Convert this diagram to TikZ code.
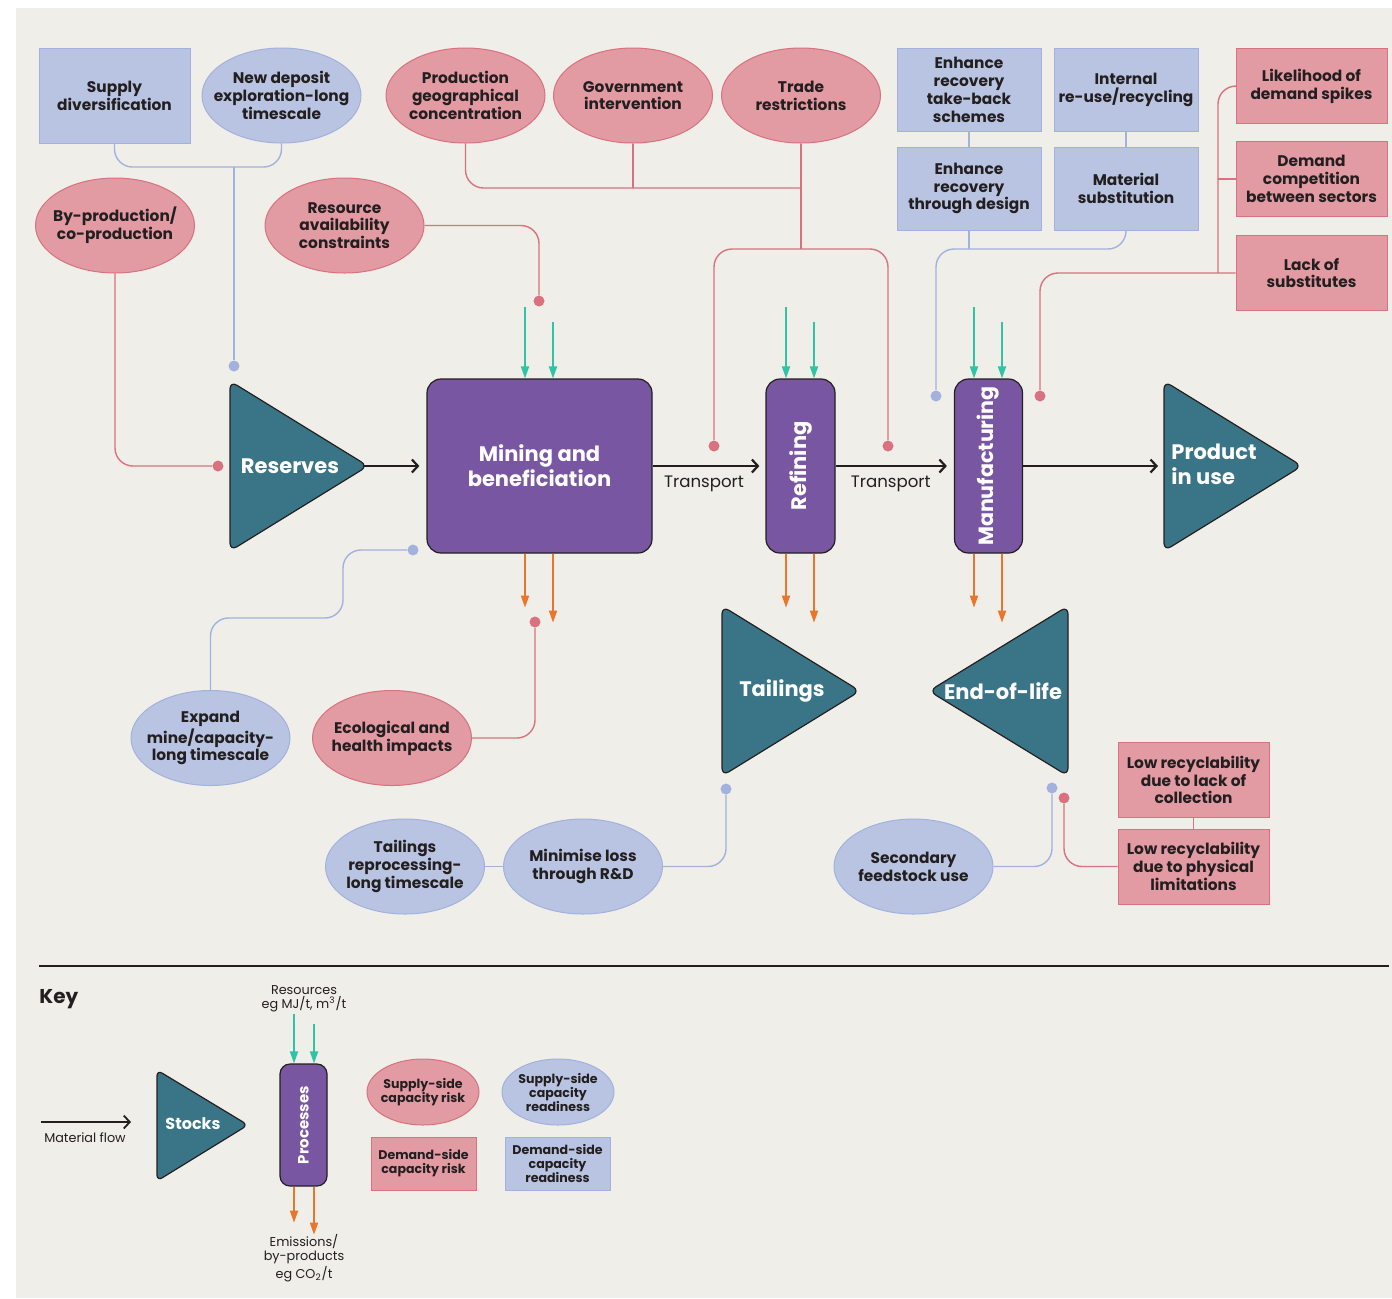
\documentclass[tikz,border=0pt]{standalone}
\usepackage{fontspec}
\setmainfont{Poppins}
\usetikzlibrary{shapes.geometric, arrows.meta, positioning}

\definecolor{bgbeige}{HTML}{EFEEE9}
\definecolor{riskfill}{HTML}{E29AA3}
\definecolor{riskline}{HTML}{D9717F}
\definecolor{readyfill}{HTML}{B9C4E2}
\definecolor{readyline}{HTML}{A2B2DD}
\definecolor{stockteal}{HTML}{3A7587}
\definecolor{procpurple}{HTML}{7856A2}
\definecolor{resgreen}{HTML}{2EC4A5}
\definecolor{emorange}{HTML}{E8762D}
\definecolor{ink}{HTML}{231F20}

\newcommand{\boxfont}{\bfseries\fontsize{7.7}{8.9}\selectfont}
\newcommand{\bigfont}{\bfseries\fontsize{10.5}{12.5}\selectfont}
\newcommand{\flowfont}{\fontsize{8.3}{10}\selectfont}
\newcommand{\keyfont}{\bfseries\fontsize{6.3}{7}\selectfont}
\newcommand{\notefont}{\fontsize{6.4}{7}\selectfont}

\tikzset{
  riskoval/.style={ellipse, draw=riskline, fill=riskfill, line width=0.5pt, inner xsep=-10pt,
    inner ysep=-4pt, align=center, text=ink, font=\boxfont, minimum width=79.5pt, minimum height=47.5pt},
  readyoval/.style={riskoval, draw=readyline, fill=readyfill},
  riskbox/.style={rectangle, draw=riskline, fill=riskfill, line width=0.5pt, inner sep=0pt,
    align=center, text=ink, font=\boxfont, minimum width=75.5pt, minimum height=37.5pt},
  readybox/.style={riskbox, draw=readyline, fill=readyfill},
  procbox/.style={rectangle, rounded corners=7pt, draw=ink, line width=0.6pt, fill=procpurple,
    minimum height=87pt},
  proctext/.style={text=white, font=\bigfont, align=center, inner sep=0pt},
  stockshape/.style={fill=stockteal, draw=ink, line width=0.6pt, rounded corners=4pt},
  risklink/.style={draw=riskline, line width=0.7pt, rounded corners=9pt},
  readylink/.style={draw=readyline, line width=0.7pt, rounded corners=9pt},
  riskdot/.style={circle, fill=riskline, inner sep=0pt, minimum size=5.5pt},
  readydot/.style={riskdot, fill=readyline},
  flow/.style={draw=ink, line width=1.1pt, -{Straight Barb[length=3pt,width=6.5pt]}},
  resin/.style={draw=resgreen, line width=0.9pt, -{Triangle[length=6pt,width=4pt]}},
  emout/.style={resin, draw=emorange},
}

\begin{document}
\begin{tikzpicture}[x=0.5pt, y=-0.5pt]
    \useasboundingbox (0,0) rectangle (1392,1298);
    \fill[white] (0,0) rectangle (1392,1298);
    \fill[bgbeige] (16,8) rectangle (1392,1298);

    % Top row: levers and risks feeding the chain
    \node[readybox, minimum height=47.5pt] (supdiv) at (114.5,95.5) {Supply\\diversification};
    \node[readyoval] (newdep) at (281.5,95.5) {New deposit\\exploration-long\\timescale};
    \node[riskoval] (prodgeo) at (465.5,95.5) {Production\\geographical\\concentration};
    \node[riskoval] (govint) at (633,95.5) {Government\\intervention};
    \node[riskoval] (trade) at (801,95.5) {Trade\\restrictions};
    \node[readybox, minimum width=72pt, minimum height=41.5pt] (takeback) at (969,90) {Enhance\\recovery\\take-back\\schemes};
    \node[readybox, minimum width=72pt, minimum height=41.5pt] (reuse) at (1126,90) {Internal\\re-use/recycling};
    \node[readybox, minimum width=72pt, minimum height=41.5pt] (design) at (969,188.5) {Enhance\\recovery\\through design};
    \node[readybox, minimum width=72pt, minimum height=41.5pt] (subst) at (1126,188.5) {Material\\substitution};
    \node[riskbox] (spikes) at (1311.5,86) {Likelihood of\\demand spikes};
    \node[riskbox] (compete) at (1311.5,179) {Demand\\competition\\between sectors};
    \node[riskbox] (nosubst) at (1311.5,273) {Lack of\\substitutes};

    % Second row
    \node[riskoval] (byprod) at (115,225.5) {By-production/\\co-production};
    \node[riskoval] (resavail) at (344.5,225.5) {Resource\\availability\\constraints};

    % Main chain: stocks and processes
    \draw[stockshape] (230,381) -- (368,466) -- (230,551) -- cycle;
    \coordinate (restip) at (364,466);
    \node[proctext] (reserves) at (290,466) {Reserves};
    \node[procbox, minimum width=112.5pt] (mining) at (539.5,466) {};
    \node[proctext] (mining-t) at (mining) {Mining and\\beneficiation};
    \node[procbox, minimum width=34.5pt] (refining) at (800.5,466) {};
    \node[proctext, rotate=90] (refining-t) at (refining) {Refining};
    \node[procbox, minimum width=34pt] (manuf) at (988.5,466) {};
    \node[proctext, rotate=90, font=\bfseries\fontsize{10.3}{12}\selectfont] (manuf-t) at (manuf) {Manufacturing};
    \draw[stockshape] (1164,381) -- (1302,466) -- (1164,551) -- cycle;
    \coordinate (prodleft) at (1164,466);
    \node[proctext, anchor=west, align=left] (inuse) at (1171,464) {Product\\in use};

    % Losses
    \draw[stockshape] (722,606) -- (860,691) -- (722,776) -- cycle;
    \node[proctext] (tailings) at (782,691) {Tailings};
    \draw[stockshape] (1068,606) -- (929,691) -- (1068,776) -- cycle;
    \node[proctext] (eol) at (1003,691) {End-of-life};

    % Material flow
    \draw[flow, shorten >=3.5pt] (restip) -- (mining.west);
    \draw[flow, shorten >=3pt] (mining.east) -- node[below=1pt, xshift=-2.5pt, font=\flowfont, text=ink] (tr1) {Transport} (refining.west);
    \draw[flow, shorten >=3.5pt] (refining.east) -- node[below=1pt, xshift=-2pt, font=\flowfont, text=ink] (tr2) {Transport} (manuf.west);
    \draw[flow, shorten >=3pt] (manuf.east) -- (prodleft);

    % Resources in, emissions out
    \foreach \p in {mining, refining, manuf} {
        \draw[resin] ([xshift=-7.25pt, yshift=35.5pt]\p.north) -- ([xshift=-7.25pt]\p.north);
        \draw[resin] ([xshift=6.75pt, yshift=28pt]\p.north) -- ([xshift=6.75pt]\p.north);
        \draw[emout] ([xshift=-7.25pt]\p.south) -- ([xshift=-7.25pt, yshift=-27pt]\p.south);
        \draw[emout] ([xshift=6.75pt]\p.south) -- ([xshift=6.75pt, yshift=-34.5pt]\p.south);
    }

    % Lower levers and risks
    \node[readyoval] (expand) at (210.5,738) {Expand\\mine/capacity-\\long timescale};
    \node[riskoval] (eco) at (392,738) {Ecological and\\health impacts};
    \node[readyoval] (tailrep) at (405,866.5) {Tailings\\reprocessing-\\long timescale};
    \node[readyoval] (minloss) at (583,866.5) {Minimise loss\\through R\&D};
    \node[readyoval] (secfeed) at (913.5,866.5) {Secondary\\feedstock use};
    \node[riskbox] (lowcoll) at (1193.5,780) {Low recyclability\\due to lack of\\collection};
    \node[riskbox] (lowphys) at (1193.5,866.5) {Low recyclability\\due to physical\\limitations};

    % Dots where links touch the chain
    \node[readydot] (resblue) at (234,366) {};
    \node[riskdot] (respink) at (218,466) {};
    \node[riskdot] (minepink) at (539,301) {};
    \node[riskdot] (tradeL) at (714,446) {};
    \node[riskdot] (tradeR) at (888,446) {};
    \node[readydot] (mfblue) at (936,396) {};
    \node[riskdot] (mfpink) at (1040,396) {};
    \node[readydot] (mineblue) at (413,550) {};
    \node[riskdot] (ecopink) at (535,622) {};
    \node[readydot] (tailblue) at (726,789) {};
    \node[readydot] (eolblue) at (1052,788) {};
    \node[riskdot] (eolpink) at (1064,798) {};

    % Links above the chain
    \coordinate (supj) at (234,167);
    \coordinate (polj) at (801,188);
    \coordinate (tradej) at (801,249);
    \coordinate (recj) at (936,249);
    \coordinate (demj) at (1218,273);
    \draw[readylink] (supdiv.south) |- (newdep.south |- supj) -- (newdep.south);
    \draw[readylink] (supj) -- (resblue);
    \draw[risklink] (byprod.south) |- (respink);
    \draw[risklink] (resavail.east) -| (minepink);
    \draw[risklink] (prodgeo.south) |- (polj);
    \draw[risklink] (govint.south) -- (govint.south |- polj);
    \draw[risklink] (trade.south) -- (tradej);
    \draw[risklink] (tradej) -| (tradeL);
    \draw[risklink] (tradej) -| (tradeR);
    \draw[readylink] (takeback.south) -- (design.north);
    \draw[readylink] (reuse.south) -- (subst.north);
    \draw[readylink] (design.south) -- (design.south |- recj);
    \draw[readylink] (subst.south) |- (recj) -- (mfblue);
    \draw[risklink] (spikes.west) -| (demj);
    \draw[risklink] (compete.west) -- (compete.west -| demj);
    \draw[risklink] (nosubst.west) -| (mfpink);

    % Links below the chain
    \coordinate (expj) at (343,618);
    \draw[readylink] (mineblue) -| (expj) -| (expand.north);
    \draw[risklink] (eco.east) -| (ecopink);
    \draw[readylink] (tailrep.east) -- (minloss.west);
    \draw[readylink] (minloss.east) -| (tailblue);
    \draw[readylink] (secfeed.east) -| (eolblue);
    \draw[risklink] (lowcoll.south) -- (lowphys.north);
    \draw[risklink] (lowphys.west) -| (eolpink);

    % Key
    \draw[ink, line width=0.6pt] (39,966) -- (1389,966);
    \node[anchor=west, font=\bfseries\fontsize{10}{12}\selectfont, text=ink, inner sep=0pt] (keytitle) at (39,999) {Key};
    \coordinate (mfa) at (41,1122);
    \coordinate (mfb) at (131,1122);
    \draw[flow, line width=0.9pt] (mfa) -- (mfb);
    \node[font=\notefont, text=ink] (mflabel) at (85,1138) {Material flow};
    \draw[stockshape, rounded corners=3pt] (157,1070) -- (248,1125) -- (157,1181) -- cycle;
    \node[proctext, font=\bfseries\fontsize{8}{10}\selectfont] (stocks) at (193,1124) {Stocks};
    \node[procbox, rounded corners=5pt, minimum width=23.5pt, minimum height=61pt] (keyproc) at (303.5,1125) {};
    \node[proctext, rotate=90, font=\bfseries\fontsize{7.5}{9}\selectfont] (keyproc-t) at (keyproc) {Processes};
    \draw[resin] ([xshift=-4.75pt, yshift=24.5pt]keyproc.north) -- ([xshift=-4.75pt]keyproc.north);
    \draw[resin] ([xshift=5.25pt, yshift=19.5pt]keyproc.north) -- ([xshift=5.25pt]keyproc.north);
    \draw[emout] ([xshift=-4.75pt]keyproc.south) -- ([xshift=-4.75pt, yshift=-18pt]keyproc.south);
    \draw[emout] ([xshift=5.25pt]keyproc.south) -- ([xshift=5.25pt, yshift=-24pt]keyproc.south);
    \node[font=\notefont, text=ink, align=center] (resnote) at (304,999) {Resources\\eg MJ/t, m\textsuperscript{3}/t};
    \node[font=\notefont, text=ink, align=center] (emnote) at (304,1258) {Emissions/\\by-products\\eg CO\textsubscript{2}/t};
    \node[riskoval, font=\keyfont, minimum width=56pt, minimum height=33pt] (keyrisk) at (423,1092) {Supply-side\\capacity risk};
    \node[readyoval, font=\keyfont, minimum width=56pt, minimum height=33pt] (keyready) at (558,1092) {Supply-side\\capacity\\readiness};
    \node[riskbox, font=\keyfont, minimum width=52.5pt, minimum height=26.5pt] (keydrisk) at (423.5,1163.5) {Demand-side\\capacity risk};
    \node[readybox, font=\keyfont, minimum width=52.5pt, minimum height=26.5pt] (keydready) at (557.5,1163.5) {Demand-side\\capacity\\readiness};
\end{tikzpicture}
\end{document}
